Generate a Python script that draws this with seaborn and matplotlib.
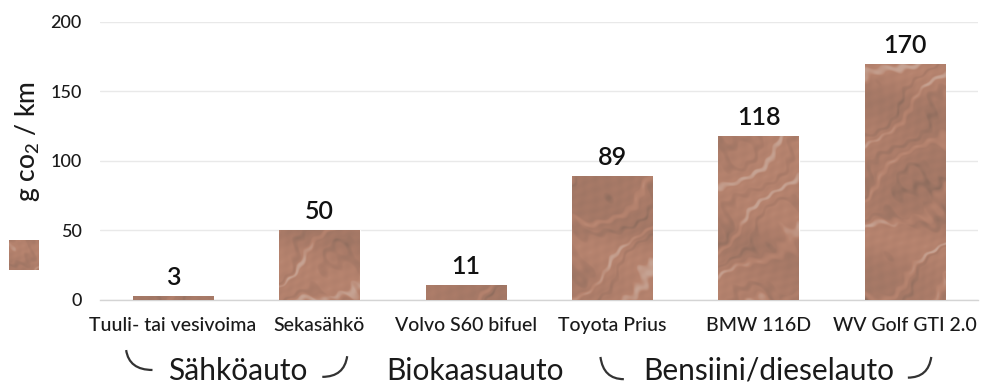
import numpy as np
import pandas as pd
import seaborn as sns
import matplotlib.pyplot as plt
from matplotlib.colors import LinearSegmentedColormap
from matplotlib.path import Path
from matplotlib.patches import PathPatch
from matplotlib.transforms import blended_transform_factory

# data
autot = ['Tuuli- tai vesivoima', 'Sekasähkö', 'Volvo S60 bifuel',
         'Toyota Prius', 'BMW 116D', 'WV Golf GTI 2.0']
co2 = [3, 50, 11, 89, 118, 170]
ryhmat = ['Sähköauto', 'Biokaasuauto', 'Bensiini/dieselauto']
ryhma_x = [0.44, 2.06, 4.07]

df = pd.DataFrame({'auto': autot, 'co2': co2})

sns.set_theme(style='white')
plt.rcParams['font.family'] = ['Lato', 'DejaVu Sans']

fig = plt.figure(figsize=(9.88, 3.83), dpi=100)
ax = fig.add_axes([0.101, 0.217, 0.889, 0.726])

sns.barplot(data=df, x='auto', y='co2', color='#a97a68', width=0.55,
            saturation=1, ax=ax, zorder=2)

# marmorikuvio pylväisiin (pelkkä tyyli)
yy, xx = np.mgrid[0:400, 0:1200].astype(float)
turb = (np.sin(xx * 0.043 + yy * 0.021) * 1.4
        + np.sin(xx * 0.017 - yy * 0.051) * 1.1
        + np.sin(xx * 0.09 + yy * 0.07) * 0.4
        + np.sin(xx * 0.23 - yy * 0.19) * 0.25)
streak = np.sin((xx * 0.06 + yy * 0.085) + turb)
marble = 0.55 + 0.16 * np.sin(xx * 0.013 - yy * 0.02 + 1.3 * np.sin(yy * 0.03))
marble += 0.06 * np.sin(xx * 0.31 + yy * 0.27 + turb) * np.sin(xx * 0.12 - yy * 0.2)
marble += 0.28 * np.clip(streak, 0.8, 1.0) * 5 - 0.28 * 4.0
marble -= 0.2 * np.clip(-np.sin((xx * 0.05 + yy * 0.07) + 1.5 * turb), 0.8, 1.0) * 5 - 0.8
marble = np.clip(marble, 0, 1)
cmap = LinearSegmentedColormap.from_list(
    'kivi', ['#7f6457', '#9c7463', '#aa7b68', '#b7846f', '#c6a393'])
for bar in ax.patches:
    im = ax.imshow(marble, cmap=cmap, vmin=0, vmax=1, extent=(-0.5, 5.5, 0, 200),
                   aspect='auto', origin='upper', zorder=3, interpolation='bilinear')
    im.set_clip_path(bar)

ax.set_xlim(-0.5, 5.5)
ax.set_ylim(0, 200)
ax.set_yticks([0, 50, 100, 150, 200])
ax.yaxis.grid(True, color='#e9e9e9', linewidth=1.0, zorder=0)
ax.set_axisbelow(True)
for s in ['top', 'right', 'left']:
    ax.spines[s].set_visible(False)
ax.spines['bottom'].set_color('#d4d4d4')
ax.spines['bottom'].set_linewidth(1.0)
ax.tick_params(axis='both', length=0, colors='#1a1a1a')
ax.tick_params(axis='y', labelsize=13, pad=13)
ax.tick_params(axis='x', labelsize=14, pad=12)
ax.set_xlabel('')
ax.set_ylabel('')
for lab in ax.get_xticklabels() + ax.get_yticklabels():
    lab.set_fontweight('medium')

fig.text(28 / 988, 1 - 142 / 383, r'g co$\mathregular{_2}$ / km', rotation=90,
         ha='center', va='center', fontsize=19, color='#1a1a1a', fontweight='medium')

# arvot pylväiden päälle
for i, v in enumerate(co2):
    ax.text(i, v + 5, str(v), ha='center', va='bottom', fontsize=18,
            color='#111111', fontweight='semibold')

# ryhmien nimet ja kaaret
tr = blended_transform_factory(ax.transData, fig.transFigure)
for x, nimi in zip(ryhma_x, ryhmat):
    ax.text(x, 0.032, nimi, transform=tr, ha='center', va='center',
            fontsize=21.5, color='#1a1a1a')

def kaari(x0, x1, vasen, top, bot):
    if vasen:
        verts = [(x0, top), (x0 + 0.02, bot), (x1, bot)]
    else:
        verts = [(x0, bot), (x1 - 0.02, bot), (x1, top)]
    p = Path(verts, [Path.MOVETO, Path.CURVE3, Path.CURVE3])
    ax.add_patch(PathPatch(p, transform=tr, fill=False, lw=1.6,
                           edgecolor='#333333', clip_on=False))

kaari(-0.32, -0.14, True, 0.086, 0.034)
kaari(1.02, 1.19, False, 0.070, 0.016)
kaari(2.92, 3.08, True, 0.068, 0.010)
kaari(5.02, 5.18, False, 0.068, 0.014)

# pieni selitelaatikko vasemmalla
lax = fig.add_axes([0.0091, 0.295, 0.0294, 0.078])
lax.imshow(marble[100:160, 300:360], cmap=cmap, vmin=0, vmax=1, aspect='auto')
lax.axis('off')

fig.savefig('out.png', dpi=100)
